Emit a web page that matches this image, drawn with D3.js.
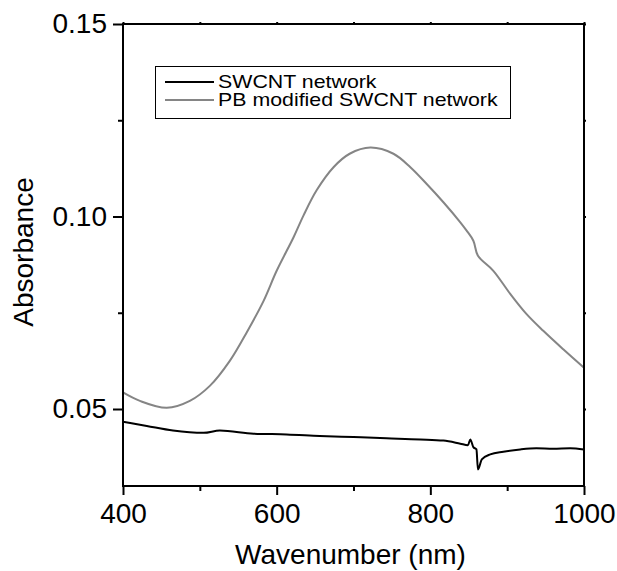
<!DOCTYPE html>
<html>
<head>
<meta charset="utf-8">
<script src="https://cdn.jsdelivr.net/npm/d3@7"></script>
<style>
  body { margin: 0; background: #fff; }
  svg text { font-family: "Liberation Sans", Arial, sans-serif; fill: #000; }
</style>
</head>
<body>
<svg id="chart" width="617" height="571"></svg>
<script>
// values
var swcntWl = [400, 431, 465, 505, 526, 570, 613, 656, 700, 743, 787, 817, 839, 849, 852, 856, 860, 862, 867, 878, 895, 917, 938, 960, 982, 1000];
var swcntAbs = [0.0467, 0.0456, 0.0444, 0.0438, 0.0444, 0.0436, 0.0434, 0.0430, 0.0427, 0.0424, 0.0421, 0.0418, 0.0410, 0.0406, 0.0421, 0.0401, 0.0395, 0.0343, 0.0369, 0.0382, 0.0389, 0.0395, 0.0398, 0.0397, 0.0398, 0.0395];

var pbWl = [400, 422, 457, 487, 513, 539, 561, 583, 600, 622, 635, 652, 674, 695, 722, 752, 774, 795, 817, 839, 847, 856, 862, 882, 904, 925, 947, 973, 1000];
var pbAbs = [0.0543, 0.0521, 0.0503, 0.0521, 0.0560, 0.0625, 0.0699, 0.0781, 0.0859, 0.0946, 0.1003, 0.1068, 0.1128, 0.1163, 0.1179, 0.1163, 0.1128, 0.1085, 0.1037, 0.0985, 0.0964, 0.0937, 0.0898, 0.0859, 0.0799, 0.0747, 0.0703, 0.0655, 0.0607];

var legendLabels = ["SWCNT network", "PB modified SWCNT network"];
var xTicks = [400, 600, 800, 1000];
var xMinor = [500, 700, 900];
var yTicks = [0.05, 0.10, 0.15];
var yMinor = [0.075, 0.125];

var margin = {left: 123, top: 24, right: 584, bottom: 486};

var svg = d3.select("#chart");

var x = d3.scaleLinear().domain([400, 1000]).range([margin.left, margin.right]);
var y = d3.scaleLinear().domain([0.03, 0.15]).range([margin.bottom, margin.top]);

// series
var line = d3.line().curve(d3.curveMonotoneX).x(d => x(d[0])).y(d => y(d[1]));
var smooth = d3.line().curve(d3.curveCatmullRom.alpha(0.5)).x(d => x(d[0])).y(d => y(d[1]));

svg.append("path")
  .datum(d3.zip(pbWl, pbAbs))
  .attr("d", smooth)
  .attr("fill", "none")
  .attr("stroke", "#858585")
  .attr("stroke-width", 2);

svg.append("path")
  .datum(d3.zip(swcntWl, swcntAbs))
  .attr("d", line)
  .attr("fill", "none")
  .attr("stroke", "#000")
  .attr("stroke-width", 2);

// axes
function styleAxis(g) {
  g.select(".domain").remove();
  g.selectAll("line").attr("stroke", "#000").attr("stroke-width", 2);
  g.selectAll("text").style("font-size", "28px");
}

svg.append("g")
  .attr("transform", `translate(0,${margin.bottom})`)
  .call(d3.axisBottom(x).tickValues(xTicks).tickSize(9).tickPadding(8).tickFormat(d3.format("d")))
  .call(styleAxis);

svg.append("g")
  .attr("transform", `translate(0,${margin.bottom})`)
  .call(d3.axisBottom(x).tickValues(xMinor).tickSize(5).tickFormat(""))
  .call(styleAxis);

svg.append("g")
  .attr("transform", `translate(${margin.left},0)`)
  .call(d3.axisLeft(y).tickValues(yTicks).tickSize(10).tickPadding(6).tickFormat(d3.format(".2f")))
  .call(styleAxis);

svg.append("g")
  .attr("transform", `translate(${margin.left},0)`)
  .call(d3.axisLeft(y).tickValues(yMinor).tickSize(5).tickFormat(""))
  .call(styleAxis);

// mirrored ticks on top and right
svg.append("g")
  .attr("transform", `translate(0,${margin.top})`)
  .call(d3.axisTop(x).tickValues(xTicks.concat(xMinor)).tickSize(2).tickFormat(""))
  .call(styleAxis);

svg.append("g")
  .attr("transform", `translate(${margin.right},0)`)
  .call(d3.axisRight(y).tickValues(yTicks.concat(yMinor)).tickSize(2).tickFormat(""))
  .call(styleAxis);

// frame
svg.append("rect")
  .attr("x", margin.left)
  .attr("y", margin.top)
  .attr("width", margin.right - margin.left)
  .attr("height", margin.bottom - margin.top)
  .attr("fill", "none")
  .attr("stroke", "#000")
  .attr("stroke-width", 2);

// axis titles
svg.append("text")
  .attr("x", (margin.left + margin.right) / 2 - 3)
  .attr("y", 564)
  .attr("text-anchor", "middle")
  .style("font-size", "28px")
  .text("Wavenumber (nm)");

svg.append("text")
  .attr("transform", `translate(33,${(margin.top + margin.bottom) / 2 - 3}) rotate(-90)`)
  .attr("text-anchor", "middle")
  .style("font-size", "28px")
  .text("Absorbance");

// legend
var legend = svg.append("g");
legend.append("rect")
  .attr("x", 155.5).attr("y", 66.5)
  .attr("width", 355).attr("height", 52)
  .attr("fill", "#fff")
  .attr("stroke", "#000")
  .attr("stroke-width", 1);

var colors = ["#000", "#858585"];
legendLabels.forEach(function(lab, i) {
  var ly = 82 + i * 18;
  legend.append("line")
    .attr("x1", 165).attr("x2", 214)
    .attr("y1", ly).attr("y2", ly)
    .attr("stroke", colors[i])
    .attr("stroke-width", 2);
  legend.append("text")
    .attr("transform", `translate(218,${ly + 6}) scale(1.22,1)`)
    .style("font-size", "17.5px")
    .text(lab);
});
</script>
</body>
</html>
